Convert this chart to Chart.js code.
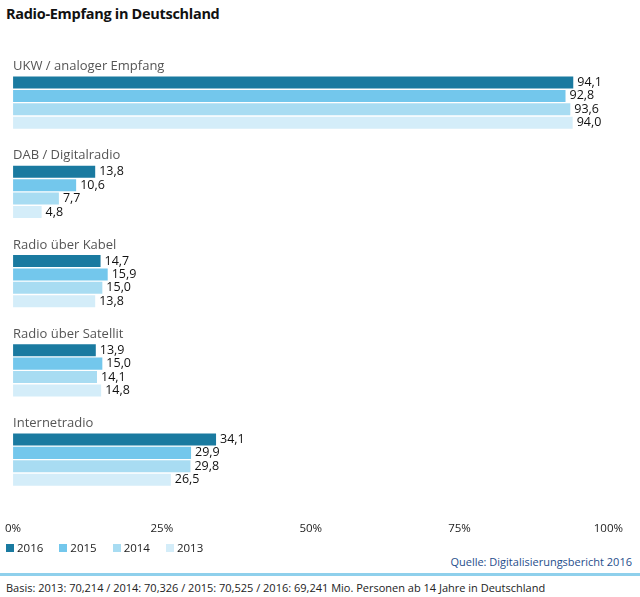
<!DOCTYPE html>
<html>
<head>
<meta charset="utf-8">
<script src="https://cdn.jsdelivr.net/npm/chart.js"></script>
<style>
  body { margin: 0; width: 640px; height: 597px; position: relative; font-family: "Open Sans", sans-serif; background: #fff; overflow: hidden; }
  h1 { position: absolute; left: 6px; top: 4px; margin: 0; font-size: 14.5px; font-weight: bold; color: #111; letter-spacing: -0.3px; }
  #wrap { position: absolute; left: -5px; top: 50px; width: 638px; height: 496px; }
  .legend { position: absolute; left: 6px; top: 540px; font-size: 11.5px; color: #222; }
  .legend span { margin-right: 16px; }
  .legend i { display: inline-block; width: 8px; height: 8px; margin-right: 3px; }
  .src { position: absolute; right: 8px; top: 554px; font-size: 11px; color: #1f4e8c; }
  .line { position: absolute; left: 0; top: 573px; width: 640px; height: 3px; background: #8fd0ec; }
  .foot { position: absolute; left: 6px; top: 580px; font-size: 11px; color: #222; }
</style>
</head>
<body>
<h1>Radio-Empfang in Deutschland</h1>
<div id="wrap"><canvas id="c"></canvas></div>
<div class="legend" id="legend"></div>
<div class="src">Quelle: Digitalisierungsbericht 2016</div>
<div class="line"></div>
<div class="foot">Basis: 2013: 70,214 / 2014: 70,326 / 2015: 70,525 / 2016: 69,241 Mio. Personen ab 14 Jahre in Deutschland</div>
<script>
const categories = ['UKW / analoger Empfang', 'DAB / Digitalradio', 'Radio über Kabel', 'Radio über Satellit', 'Internetradio'];
const years = ['2016', '2015', '2014', '2013'];
const v2016 = [94.1, 13.8, 14.7, 13.9, 34.1];
const v2015 = [92.8, 10.6, 15.9, 15.0, 29.9];
const v2014 = [93.6, 7.7, 15.0, 14.1, 29.8];
const v2013 = [94.0, 4.8, 13.8, 14.8, 26.5];
const colors = ['#1a7aa0', '#73c7ec', '#a8dcf2', '#d4edf9'];
const xTicks = [0, 25, 50, 75, 100];

const series = [v2016, v2015, v2014, v2013];
document.getElementById('legend').innerHTML = years.map((y, i) =>
  `<span><i style="background:${colors[i]}"></i>${y}</span>`).join('');

const labelPlugin = {
  id: 'labels',
  afterDatasetsDraw(chart) {
    const ctx = chart.ctx;
    ctx.save();
    ctx.font = '12.5px "Open Sans"';
    ctx.fillStyle = '#111';
    ctx.textBaseline = 'middle';
    chart.data.datasets.forEach((ds, di) => {
      chart.getDatasetMeta(di).data.forEach((bar, i) => {
        ctx.fillText(ds.data[i].toFixed(1).replace('.', ','), bar.x + 4, bar.y);
      });
    });
    const y = chart.scales.y;
    ctx.font = '13px "Open Sans"';
    ctx.fillStyle = '#555';
    ctx.textBaseline = 'top';
    const step = (y.bottom - y.top) / categories.length;
    categories.forEach((c, i) => ctx.fillText(c, chart.chartArea.left, y.top + i * step + 2));
    ctx.restore();
  }
};

new Chart(document.getElementById('c'), {
  type: 'bar',
  data: {
    labels: categories,
    datasets: years.map((y, i) => ({
      label: y, data: series[i], backgroundColor: colors[i],
      barPercentage: 0.9, categoryPercentage: 0.6
    }))
  },
  options: {
    indexAxis: 'y',
    responsive: true,
    maintainAspectRatio: false,
    animation: false,
    layout: { padding: { top: 8 } },
    plugins: { legend: { display: false }, tooltip: { enabled: false } },
    scales: {
      x: {
        min: 0, max: 100,
        afterBuildTicks: s => { s.ticks = xTicks.map(v => ({ value: v })); },
        grid: { display: false }, border: { display: false },
        ticks: { callback: v => v + '%', font: { family: 'Open Sans', size: 11.5 }, color: '#222', padding: 10 }
      },
      y: { display: false }
    }
  },
  plugins: [labelPlugin]
});
</script>
</body>
</html>
